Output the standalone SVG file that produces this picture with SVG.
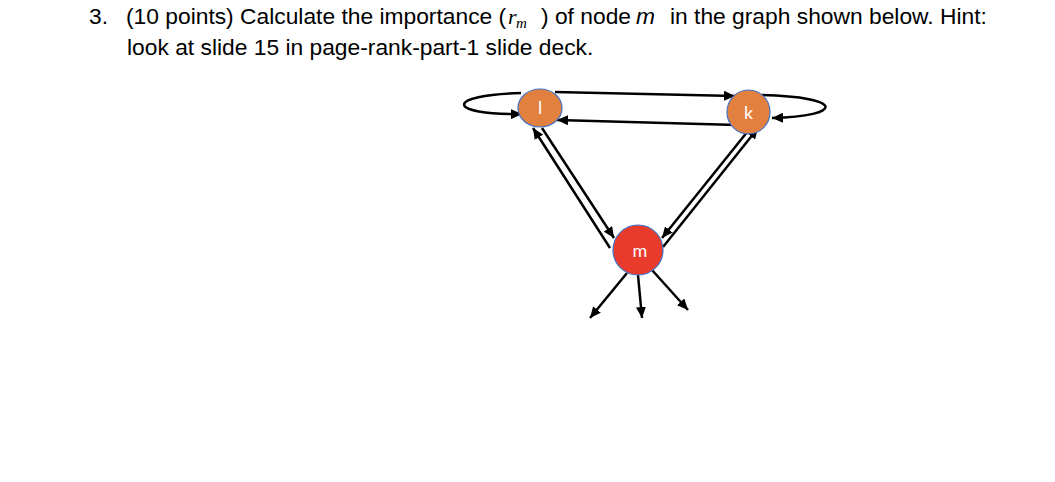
<svg xmlns="http://www.w3.org/2000/svg" width="1055" height="482" viewBox="0 0 1055 482">
<style>
.q{font-family:"Liberation Sans",Arial,sans-serif;font-size:22.8px;fill:#000}
.qi{font-family:"Liberation Sans",Arial,sans-serif;font-size:22.8px;font-style:italic;fill:#000}
.mth{font-family:"Liberation Serif","Times New Roman",serif;font-style:italic;fill:#000}
.edge{fill:none;stroke:#000;stroke-width:2.5}
.node{stroke:#4472C4;stroke-width:1.2}
.lbl{font-family:Lato,"Open Sans",sans-serif;font-size:18px;fill:#fff;text-anchor:middle}
</style>
<defs>
<marker id="ah" markerUnits="userSpaceOnUse" markerWidth="12" markerHeight="10" refX="11" refY="5" orient="auto">
<path d="M0,0 L11,5 L0,10 z" fill="#000"/>
</marker>
</defs>
<rect width="1055" height="482" fill="#fff"/>
<g id="question">
<text class="q" x="89" y="24">3.</text>
<text class="q" x="126" y="24">(10 points) Calculate the importance (</text>
<text class="mth" x="508" y="24" font-size="22">r</text>
<text class="mth" x="516" y="28" font-size="15">m</text>
<text class="q" x="541" y="24">) of node</text>
<text class="qi" x="636" y="24">m</text>
<text class="q" x="670" y="24">in the graph shown below. Hint:</text>
<text class="q" x="127" y="55">look at slide 15 in page-rank-part-1 slide deck.</text>
</g>
<g id="connectors">
<path class="edge" d="M521,93 C445,95 445,115 522,114" marker-end="url(#ah)"/>
<path class="edge" d="M762,95 C845,97 845,116 772,118" marker-end="url(#ah)"/>
<path class="edge" d="M555,92 L735,96" marker-end="url(#ah)"/>
<path class="edge" d="M737,125 L557,120" marker-end="url(#ah)"/>
<path class="edge" d="M542,128 L614,238" marker-end="url(#ah)"/>
<path class="edge" d="M610,248 L533,128" marker-end="url(#ah)"/>
<path class="edge" d="M752,126 L662,238" marker-end="url(#ah)"/>
<path class="edge" d="M663,247 L758,128" marker-end="url(#ah)"/>
<path class="edge" d="M627,273 L590,318" marker-end="url(#ah)"/>
<path class="edge" d="M638,275 L642,318" marker-end="url(#ah)"/>
<path class="edge" d="M652,270 L688,310" marker-end="url(#ah)"/>
</g>
<g id="node-l">
<ellipse class="node" cx="540" cy="108" rx="22" ry="19" fill="#E2813F"/>
<text class="lbl" x="540" y="114">l</text>
</g>
<g id="node-k">
<ellipse class="node" cx="748.5" cy="112" rx="21.5" ry="22" fill="#E2813F"/>
<text class="lbl" x="748.5" y="119">k</text>
</g>
<g id="node-m">
<circle class="node" cx="638" cy="250" r="25" fill="#E93B2C"/>
<text class="lbl" x="640" y="257">m</text>
</g>
</svg>
